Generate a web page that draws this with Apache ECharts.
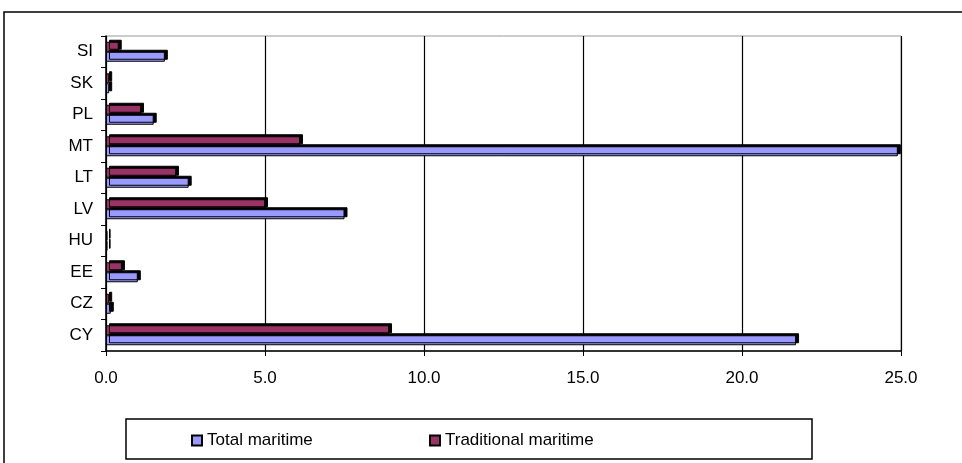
<!DOCTYPE html>
<html><head><meta charset="utf-8">
<script src="https://cdn.jsdelivr.net/npm/echarts@6/dist/echarts.min.js"></script>
<style>html,body{margin:0;padding:0;background:#fff}#c{width:962px;height:463px}</style>
</head><body><div id="c"></div>
<script>
const categories = ['CY','CZ','EE','HU','LV','LT','MT','PL','SK','SI'];
const totalMaritime = [21.7, 0.15, 1.0, 0.05, 7.5, 2.6, 24.9, 1.5, 0.1, 1.85];
const traditionalMaritime = [8.9, 0.1, 0.5, 0.05, 5.0, 2.2, 6.1, 1.1, 0.1, 0.4];
const xTicks = {min: 0, max: 25, interval: 5};

const chart = echarts.init(document.getElementById('c'), null, {renderer: 'canvas'});
const font = 'Liberation Sans, Arial, sans-serif';
const barStyle = (color) => ({
  color: color, borderColor: '#000', borderWidth: 1,
  shadowColor: '#000', shadowOffsetX: 3, shadowOffsetY: -2, shadowBlur: 0
});
chart.setOption({
  animation: false,
  backgroundColor: '#fff',
  graphic: [
    {type: 'rect', shape: {x: 4, y: 12, width: 980, height: 480}, style: {fill: 'none', stroke: '#000', lineWidth: 1.5}, z: -10},
    {type: 'rect', shape: {x: 126, y: 419, width: 686, height: 40}, style: {fill: '#fff', stroke: '#000', lineWidth: 1.5}, z: 0}
  ],
  grid: {left: 106, right: 61, top: 36, bottom: 112, show: true, borderColor: '#999', borderWidth: 1},
  legend: [
    {data: ['Total maritime'], left: 186, top: 427, itemWidth: 10, itemHeight: 10, itemGap: 5, z: 10,
     textStyle: {fontFamily: font, fontSize: 17, color: '#000'}, icon: 'rect'},
    {data: ['Traditional maritime'], left: 424, top: 427, itemWidth: 10, itemHeight: 10, itemGap: 5, z: 10,
     textStyle: {fontFamily: font, fontSize: 17, color: '#000'}, icon: 'rect'}
  ],
  xAxis: {
    type: 'value', min: xTicks.min, max: xTicks.max, interval: xTicks.interval,
    axisLine: {show: true, lineStyle: {color: '#000', width: 1.5}},
    axisTick: {show: true, length: 5, lineStyle: {color: '#000'}},
    axisLabel: {formatter: v => v.toFixed(1), fontFamily: font, fontSize: 17, color: '#000', margin: 19},
    splitLine: {show: true, lineStyle: {color: '#000', width: 1.2}}
  },
  yAxis: {
    type: 'category', data: categories,
    axisLine: {show: true, lineStyle: {color: '#000', width: 1.5}},
    axisTick: {show: true, length: 5, alignWithLabel: false, lineStyle: {color: '#000'}},
    axisLabel: {fontFamily: font, fontSize: 17, color: '#000', margin: 13}
  },
  series: [
    {name: 'Traditional maritime', type: 'bar', data: traditionalMaritime, barWidth: 10, barGap: '0%',
     itemStyle: barStyle('#993366')},
    {name: 'Total maritime', type: 'bar', data: totalMaritime, barWidth: 10, barGap: '0%',
     itemStyle: barStyle('#9999FF')}
  ]
});
</script></body></html>
